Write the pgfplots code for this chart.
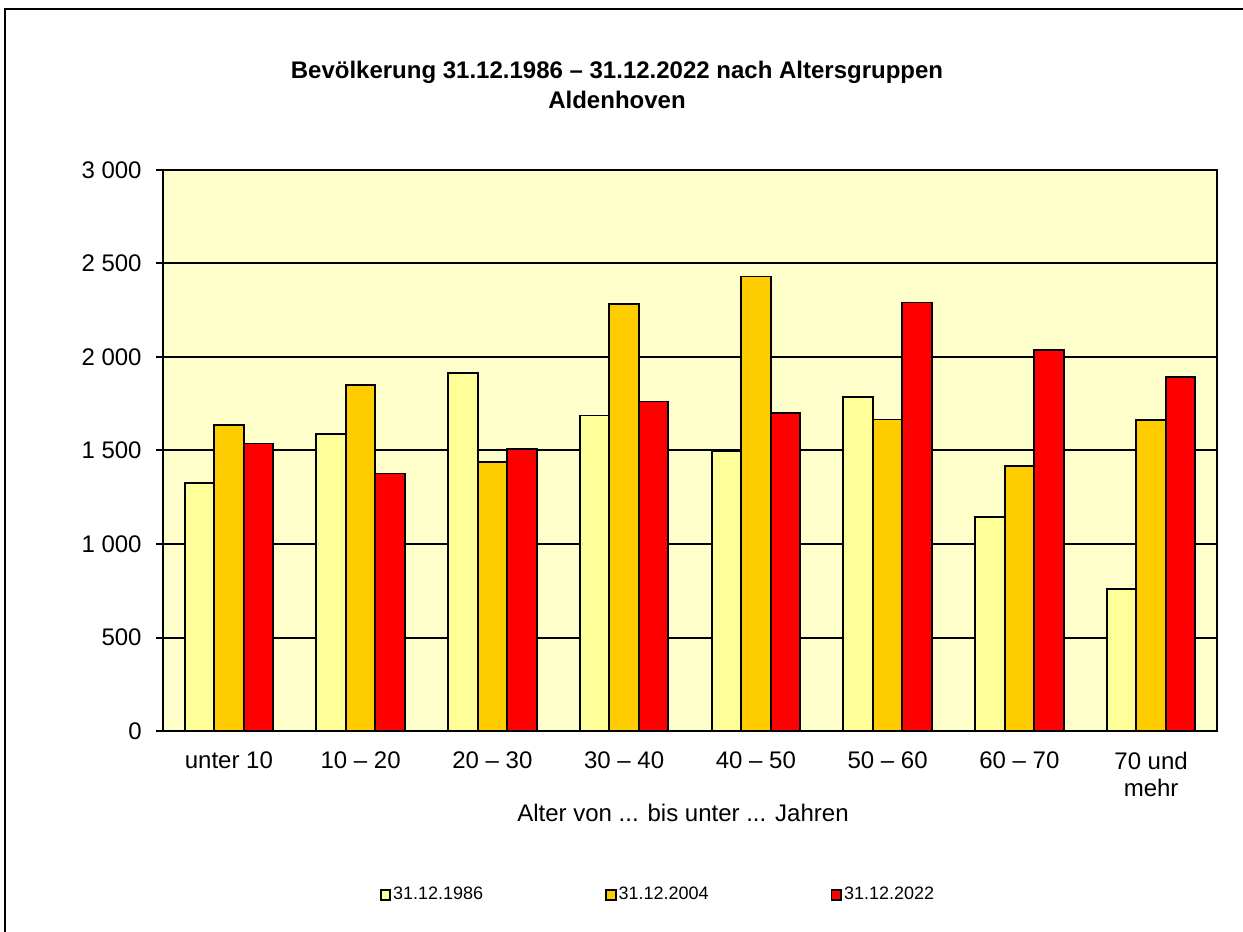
\documentclass[border=0pt]{standalone}
\usepackage{fontspec}
\setmainfont{Liberation Sans}
\usepackage{pgfplots}
\pgfplotsset{compat=1.18}
\definecolor{plotbg}{HTML}{FFFFCC}
\definecolor{cA}{HTML}{FFFF99}
\definecolor{cB}{HTML}{FFCC00}
\definecolor{cC}{HTML}{FF0000}
\pgfplotsset{sqlegend/.style={legend image code/.code={\draw[##1, line width=0.9pt] (0pt,-2.4pt) rectangle (4.8pt,2.4pt);}}}
\begin{document}
\begin{tikzpicture}
\useasboundingbox (0,0) rectangle (621.5pt,466pt);
\draw[line width=1pt] (2.5pt,0pt) -- (2.5pt,461.5pt) -- (621.5pt,461.5pt);
\node[align=center, font=\fontsize{12}{15}\selectfont\bfseries] at (308.5pt,423.5pt)
  {Bevölkerung 31.12.1986 – 31.12.2022 nach Altersgruppen\\Aldenhoven};
\begin{axis}[
  at={(81.5pt,100.5pt)}, anchor=south west,
  width=527pt, height=280.5pt, scale only axis,
  xmin=-0.5, xmax=7.5, ymin=0, ymax=3000,
  xtick={0,1,2,3,4,5,6,7},
  xticklabels={unter 10,10 – 20,20 – 30,30 – 40,40 – 50,50 – 60,60 – 70,{70 und\\mehr}},
  ytick={0,500,1000,1500,2000,2500,3000},
  yticklabels={0,500,1~000,1~500,2~000,2~500,3~000},
  ymajorgrids, grid style={black, line width=1pt},
  axis line style={line width=1pt},
  axis background/.style={fill=plotbg},
  tick align=outside, major tick length=3.5pt, tick pos=left,
  xtick style={draw=none}, ytick style={black, line width=1pt},
  x tick label style={align=center, anchor=north, yshift=-3.5pt, font=\fontsize{12}{13.5}\selectfont},
  y tick label style={anchor=east, inner sep=0pt, xshift=-7pt, font=\fontsize{12}{13.5}\selectfont},
  xlabel={Alter von ... bis unter ... Jahren},
  xlabel style={at={(axis description cs:0.5,0)}, anchor=center, yshift=-41pt, xshift=-3.5pt, font=\fontsize{12}{13.5}\selectfont},
  legend columns=3,
  legend style={at={(axis description cs:0.4696,-0.2923)}, anchor=center, draw=none, fill=none,
    font=\fontsize{9}{10}\selectfont, nodes={inner xsep=1pt},
    /tikz/every even column/.append style={column sep=60pt}},
]
\addplot[ybar, bar width=0.224, bar shift=-0.224, fill=cA, draw=black, line width=0.9pt, sqlegend]
  coordinates {(0,1327) (1,1589) (2,1916) (3,1687) (4,1496) (5,1788) (6,1145) (7,761)};
\addplot[ybar, bar width=0.224, bar shift=0, fill=cB, draw=black, line width=0.9pt, sqlegend]
  coordinates {(0,1638) (1,1850) (2,1439) (3,2282) (4,2431) (5,1666) (6,1418) (7,1661)};
\addplot[ybar, bar width=0.224, bar shift=0.224, fill=cC, draw=black, line width=0.9pt, sqlegend]
  coordinates {(0,1537) (1,1377) (2,1509) (3,1762) (4,1702) (5,2291) (6,2037) (7,1893)};
\legend{31.12.1986,31.12.2004,31.12.2022}
\end{axis}
\end{tikzpicture}
\end{document}
